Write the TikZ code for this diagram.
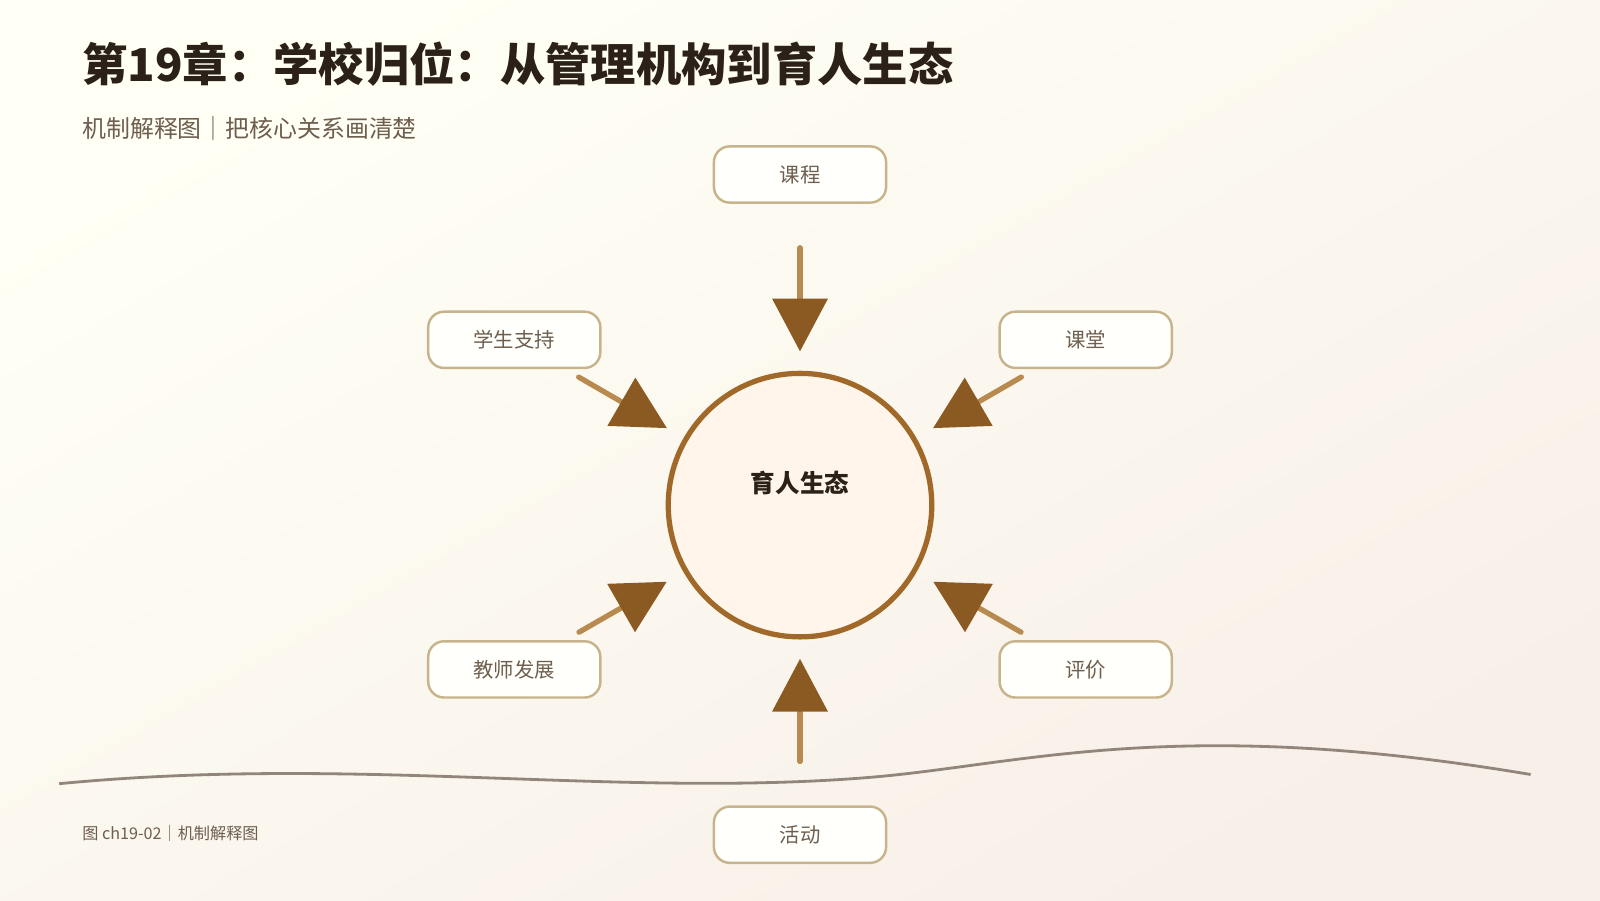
\documentclass[tikz,border=0pt]{standalone}
\usepackage{fontspec}
\setmainfont{Noto Sans CJK SC}
\usetikzlibrary{arrows.meta}
\definecolor{ink}{HTML}{2B2118}
\definecolor{muted}{HTML}{6E5E4E}
\definecolor{rim}{HTML}{C8B48C}
\definecolor{ring}{HTML}{A0692A}
\definecolor{shaft}{HTML}{B88A50}
\definecolor{tip}{HTML}{8B5A22}
\tikzset{
  topic/.style={draw=rim, line width=0.7pt, fill=white!70!yellow!4, rounded corners=4.5pt,
    minimum width=49pt, minimum height=16pt, text=muted, font=\fontsize{5.8}{7}\selectfont},
  feed/.style={draw=shaft, line width=1.5pt, line cap=round,
    -{Triangle[length=15pt,width=15.5pt,color=tip]}}
}
\begin{document}
\begin{tikzpicture}[x=0.010204cm, y=-0.010204cm]
		\useasboundingbox (0,0) rectangle (1568,882);
		\shade[top color=white!60!yellow!10, bottom color=brown!12!white, shading angle=30] (0,0) rectangle (1568,882);
		
		\node[anchor=west, inner sep=0pt, text=ink, font=\fontsize{12.9}{15}\bfseries\selectfont] (title) at (80,63) {第19章：学校归位：从管理机构到育人生态};
		\node[anchor=west, inner sep=0pt, text=muted, font=\fontsize{6.8}{8}\selectfont] (sub) at (80,126) {机制解释图｜把核心关系画清楚};
		
		\draw[draw=muted!75, line width=0.8pt] (58,768) .. controls (350,740) and (600,782) .. (850,762)
		  .. controls (1000,750) and (1150,700) .. (1500,759);
		
		\node[circle, draw=ring, line width=1.5pt, fill=orange!8!white, minimum size=75pt] (core) at (784,495) {};
		\node[text=ink, font=\fontsize{7}{8}\bfseries\selectfont] (corelabel) at (784,473) {育人生态};
		
		\node[topic] (course) at (784,171) {课程};
		\node[topic] (support) at (504,333) {学生支持};
		\node[topic] (class) at (1064,333) {课堂};
		\node[topic] (teacher) at (504,656) {教师发展};
		\node[topic] (assess) at (1064,656) {评价};
		\node[topic] (activity) at (784,818) {活动};
		
		\draw[feed, shorten <=12.5pt, shorten >=5.5pt] (course) -- (core);
		\draw[feed, shorten <=12.5pt, shorten >=5.5pt] (activity) -- (core);
		\foreach \s in {support, class, teacher, assess}
		  \draw[feed, shorten <=4.5pt, shorten >=5.5pt] (\s) -- (core);
		
		\node[anchor=west, inner sep=0pt, text=muted, font=\fontsize{4.6}{6}\selectfont] (foot) at (80,817) {图 ch19-02｜机制解释图};
\end{tikzpicture}
\end{document}
